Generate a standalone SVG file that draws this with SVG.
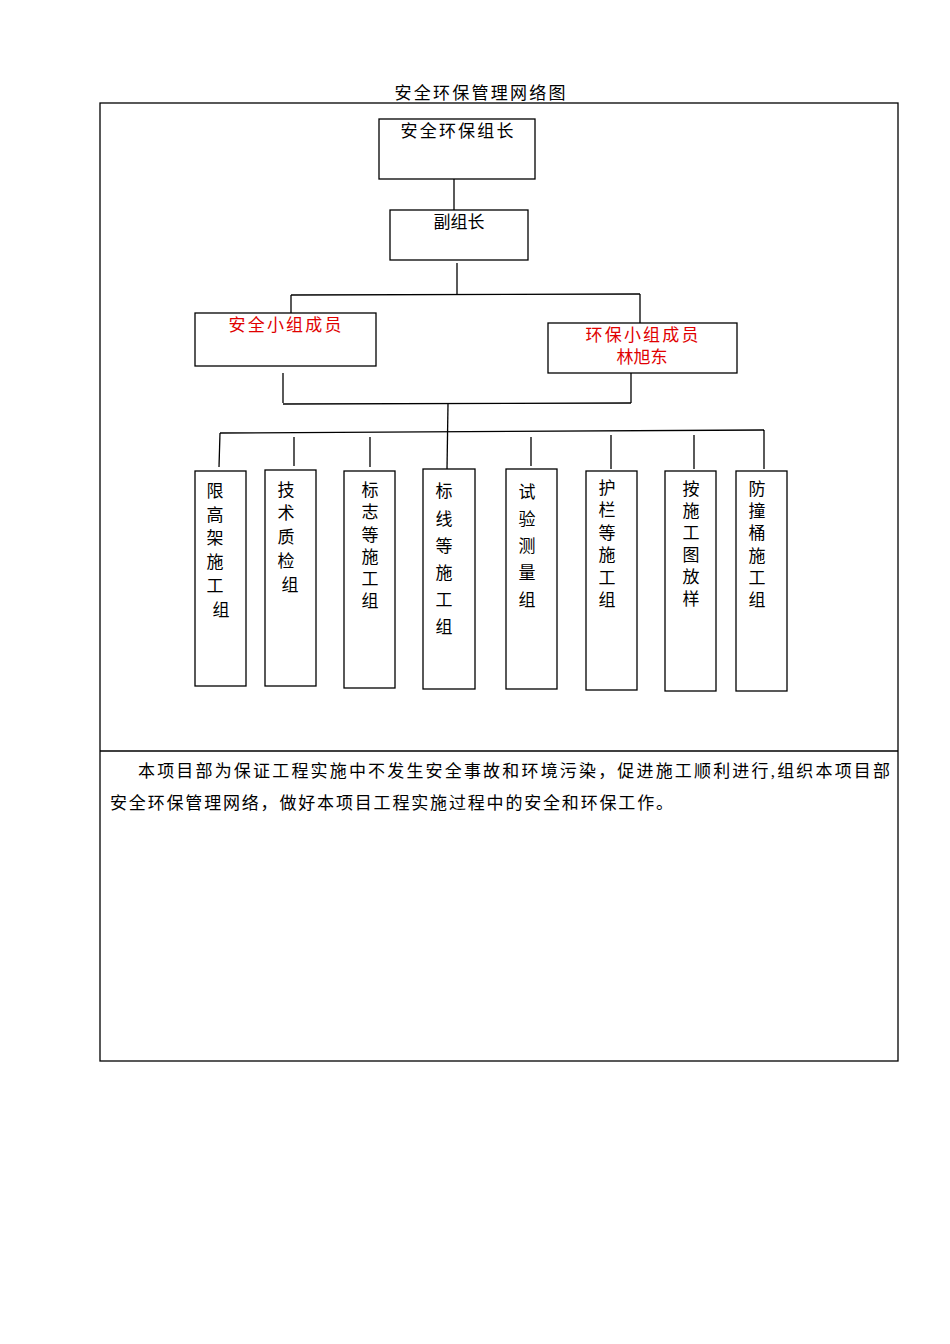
<svg xmlns="http://www.w3.org/2000/svg" width="950" height="1344" viewBox="0 0 950 1344">
<style>
text{font-family:"Liberation Serif","Noto Sans CJK SC",serif;font-size:17px;fill:#000;text-anchor:middle;dominant-baseline:central}
.r{fill:#e00000}
rect{fill:none;stroke:#000;stroke-width:1.3}
line{stroke:#000;stroke-width:1.3}
</style>
<rect width="950" height="1344" fill="#fff" stroke="none" style="fill:#fff;stroke:none"/>
<text x="480" y="93" textLength="171">安全环保管理网络图</text>
<rect x="100" y="103" width="798" height="958"/>
<line x1="100" y1="751" x2="898" y2="751"/>
<g id="connectors">
<line x1="454" y1="179" x2="454" y2="210"/>
<line x1="457" y1="263" x2="457" y2="294"/>
<line x1="291" y1="295" x2="640" y2="294"/>
<line x1="291" y1="295" x2="291" y2="313"/>
<line x1="640" y1="294" x2="640" y2="323"/>
<line x1="283" y1="373" x2="283" y2="403"/>
<line x1="631" y1="373" x2="631" y2="403"/>
<line x1="283" y1="404" x2="631" y2="403"/>
<line x1="448" y1="404" x2="447" y2="469"/>
<line x1="220" y1="433" x2="764" y2="430"/>
<line x1="220" y1="433" x2="219" y2="467"/>
<line x1="294" y1="437" x2="294" y2="466"/>
<line x1="370" y1="437" x2="370" y2="467"/>
<line x1="531" y1="437" x2="531" y2="466"/>
<line x1="611" y1="435" x2="611" y2="469"/>
<line x1="694" y1="435" x2="694" y2="469"/>
<line x1="764" y1="430" x2="764" y2="469"/>
</g>
<g id="n1"><rect x="379" y="119" width="156" height="60"/><text x="457" y="131" textLength="113">安全环保组长</text></g>
<g id="n2"><rect x="390" y="210" width="138" height="50"/><text x="459" y="222">副组长</text></g>
<g id="n3"><rect x="195" y="313" width="181" height="53"/><text class="r" x="285" y="325" textLength="113">安全小组成员</text></g>
<g id="n4"><rect x="548" y="323" width="189" height="50"/><text class="r" x="642" y="335" textLength="113">环保小组成员</text><text class="r" x="642" y="357">林旭东</text></g>
<g id="g1"><rect x="195" y="471" width="51" height="215"/><text x="215" y="491">限</text><text x="215" y="515">高</text><text x="215" y="538">架</text><text x="215" y="562">施</text><text x="215" y="586">工</text><text x="221" y="610">组</text></g>
<g id="g2"><rect x="265" y="470" width="51" height="216"/><text x="286" y="490">技</text><text x="286" y="513">术</text><text x="286" y="537">质</text><text x="286" y="561">检</text><text x="290" y="585">组</text></g>
<g id="g3"><rect x="344" y="471" width="51" height="217"/><text x="370" y="490">标</text><text x="370" y="512">志</text><text x="370" y="535">等</text><text x="370" y="557">施</text><text x="370" y="579">工</text><text x="370" y="601">组</text></g>
<g id="g4"><rect x="423" y="469" width="52" height="220"/><text x="444" y="491">标</text><text x="444" y="519">线</text><text x="444" y="546">等</text><text x="444" y="573">施</text><text x="444" y="600">工</text><text x="444" y="627">组</text></g>
<g id="g5"><rect x="506" y="469" width="51" height="220"/><text x="527" y="492">试</text><text x="527" y="519">验</text><text x="527" y="546">测</text><text x="527" y="573">量</text><text x="527" y="600">组</text></g>
<g id="g6"><rect x="586" y="471" width="51" height="219"/><text x="607" y="488">护</text><text x="607" y="510">栏</text><text x="607" y="533">等</text><text x="607" y="555">施</text><text x="607" y="578">工</text><text x="607" y="600">组</text></g>
<g id="g7"><rect x="665" y="471" width="51" height="220"/><text x="691" y="489">按</text><text x="691" y="511">施</text><text x="691" y="533">工</text><text x="691" y="555">图</text><text x="691" y="577">放</text><text x="691" y="599">样</text></g>
<g id="g8"><rect x="736" y="471" width="51" height="220"/><text x="757" y="489">防</text><text x="757" y="511">撞</text><text x="757" y="533">桶</text><text x="757" y="556">施</text><text x="757" y="578">工</text><text x="757" y="600">组</text></g>
<text x="138" y="771" style="text-anchor:start" textLength="752">本项目部为保证工程实施中不发生安全事故和环境污染，促进施工顺利进行,组织本项目部</text>
<text x="110" y="803" style="text-anchor:start" textLength="563">安全环保管理网络，做好本项目工程实施过程中的安全和环保工作。</text>
</svg>
